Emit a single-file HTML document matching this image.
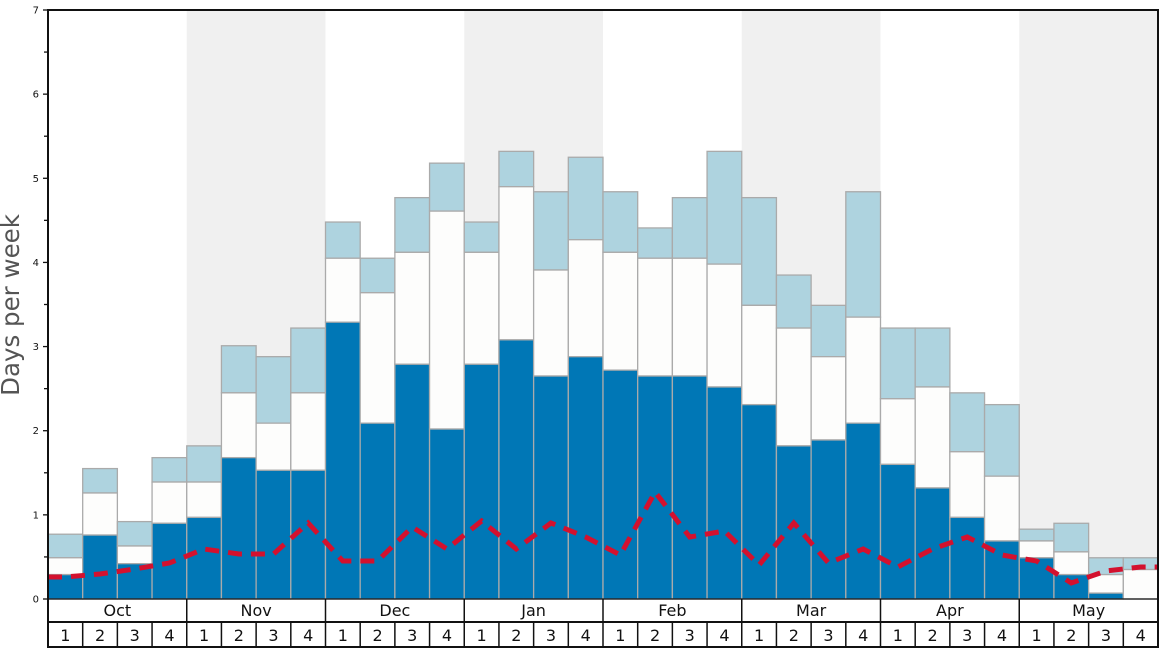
<!DOCTYPE html>
<html><head><meta charset="utf-8"><style>
html,body{margin:0;padding:0;background:#fff;}
svg{display:block;font-family:"DejaVu Sans","Liberation Sans",sans-serif;}
</style></head><body>
<svg id="s" width="1168" height="648" viewBox="0 0 1168 648" xmlns="http://www.w3.org/2000/svg">
<g id="bg"></g>
<g id="bars"></g>
<polyline id="red" fill="none" stroke="#d3112e" stroke-width="5" stroke-dasharray="14,9" points=""/>
<g id="axes"></g>
<text x="19" y="305" transform="rotate(-90 19 305)" text-anchor="middle" font-size="24.5" fill="#555">Days per week</text>
</svg>
<script>
const X0=48,X1=1158,Y0=599,U=(599-10)/7,W=(X1-X0)/32;
const d=[[0.29,0.49,0.77],[0.76,1.26,1.55],[0.42,0.63,0.92],[0.90,1.39,1.68],[0.97,1.39,1.82],[1.68,2.45,3.01],[1.53,2.09,2.88],[1.53,2.45,3.22],[3.29,4.05,4.48],[2.09,3.64,4.05],[2.79,4.12,4.77],[2.02,4.61,5.18],[2.79,4.12,4.48],[3.08,4.90,5.32],[2.65,3.91,4.84],[2.88,4.27,5.25],[2.72,4.12,4.84],[2.65,4.05,4.41],[2.65,4.05,4.77],[2.52,3.98,5.32],[2.31,3.49,4.77],[1.82,3.22,3.85],[1.89,2.88,3.49],[2.09,3.35,4.84],[1.6,2.38,3.22],[1.32,2.52,3.22],[0.97,1.75,2.45],[0.69,1.46,2.31],[0.49,0.69,0.83],[0.29,0.56,0.90],[0.07,0.29,0.49],[0,0.35,0.49]];
const ry=[577,574,569,563,549,554,554,523,561,561,527,549,521,549,523,537,555,492,537,531,565,523,563,549,567,549,537,555,561,583,571,567];
const ns="http://www.w3.org/2000/svg";
function el(p,t,a,txt){const e=document.createElementNS(ns,t);for(const k in a)e.setAttribute(k,a[k]);if(txt!=null)e.textContent=txt;document.getElementById(p).appendChild(e);return e;}
for(const m of [1,3,5,7])el("bg","rect",{x:X0+m*4*W,y:10,width:4*W,height:589,fill:"#f0f0f0"});
d.forEach((v,i)=>{const x=X0+i*W;
 const yy=t=>Y0-t*U;
 el("bars","rect",{x:x,y:yy(v[2]),width:W,height:(v[2]-v[1])*U,fill:"#aed3df",stroke:"#aaa","stroke-width":1.3});
 el("bars","rect",{x:x,y:yy(v[1]),width:W,height:(v[1]-v[0])*U,fill:"#fdfdfc",stroke:"#aaa","stroke-width":1.3});
 if(v[0]>0)el("bars","rect",{x:x,y:yy(v[0]),width:W,height:v[0]*U,fill:"#0077b6",stroke:"#aaa","stroke-width":1.3});
});
let pts=[[X0,ry[0]]];ry.forEach((y,i)=>pts.push([X0+(i+0.5)*W,y]));pts.push([X1,ry[31]]);
document.getElementById("red").setAttribute("points",pts.map(p=>p.join(",")).join(" "));
el("axes","rect",{x:X0,y:10,width:X1-X0,height:637,fill:"none",stroke:"#111","stroke-width":2});
el("axes","line",{x1:X0,y1:Y0,x2:X1,y2:Y0,stroke:"#111","stroke-width":1.3});
el("axes","line",{x1:X0,y1:622,x2:X1,y2:622,stroke:"#111","stroke-width":2});
for(let k=0;k<=14;k++){const y=Y0-k*U/2;el("axes","line",{x1:X0-(k%2?4:5),y1:y,x2:X0,y2:y,stroke:"#111","stroke-width":1.3});
 if(k%2==0)el("axes","text",{x:39,y:y+3.5,"font-size":"10","text-anchor":"end",fill:"#111"},k/2);}
const mon=["Oct","Nov","Dec","Jan","Feb","Mar","Apr","May"];
mon.forEach((m,i)=>{const x=X0+i*4*W;if(i>0)el("axes","line",{x1:x,y1:599,x2:x,y2:647,stroke:"#111","stroke-width":1.5});
 el("axes","text",{x:x+2*W,y:616,"font-size":"16","text-anchor":"middle",fill:"#111"},m);});
for(let i=0;i<32;i++){const x=X0+i*W;if(i%4)el("axes","line",{x1:x,y1:622,x2:x,y2:647,stroke:"#111","stroke-width":1.5});
 el("axes","text",{x:x+W/2,y:641,"font-size":"16","text-anchor":"middle",fill:"#111"},i%4+1);}
</script>
</body></html>
